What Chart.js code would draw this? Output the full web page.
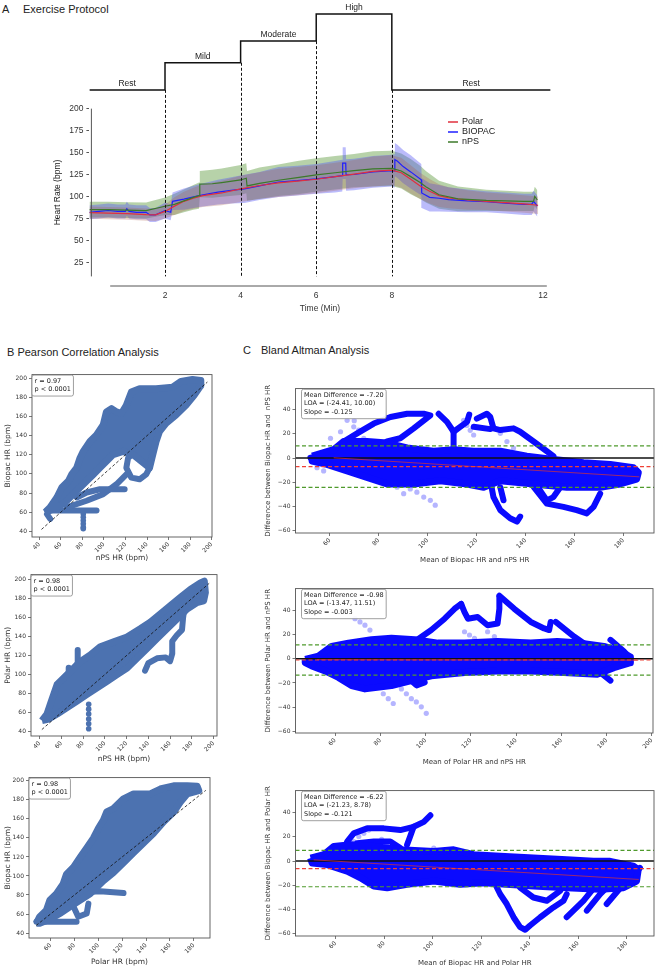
<!DOCTYPE html>
<html>
<head>
<meta charset="utf-8">
<script src="https://cdn.jsdelivr.net/npm/chart.js@4.4.1/dist/chart.umd.min.js"></script>
<style>
  body { margin: 0; width: 659px; height: 968px; position: relative; overflow: hidden; background: #fff; font-family: "Liberation Sans", Arial, sans-serif; }
  canvas { position: absolute; }
  .t { position: absolute; font-size: 11px; line-height: 11px; color: #222; white-space: pre; }
</style>
</head>
<body>
<div class="t" style="left:2px;top:4px">A</div>
<div class="t" style="left:23px;top:4px">Exercise Protocol</div>
<div class="t" style="left:7px;top:347px">B Pearson Correlation Analysis</div>
<div class="t" style="left:243px;top:345px">C</div>
<div class="t" style="left:261px;top:345px">Bland Altman Analysis</div>
<script>
// ---------- Panel A: exercise protocol + heart rate ----------
const stageNames = ['Rest', 'Mild', 'Moderate', 'High', 'Rest'];
const stageStart = [0, 2, 4, 6, 8];
const stageLevel = [0, 1, 1.8, 2.8, 0];
const stageEnd = 12.2;

const hrTicks = [25, 50, 75, 100, 125, 150, 175, 200];
const timeTicks = [2, 4, 6, 8, 12];

const polarMin = [0,0.5,1,1.5,1.75,2,2.25,2.5,2.75,3,3.5,4,4.5,5,5.5,6,6.5,7,7.5,8,8.25,8.5,8.75,9,9.25,9.5,10,10.5,11,11.5,11.87];
const polarHR  = [81.5,81,80.5,79.3,79,83,89,94.5,98,101,104,108.6,112.5,115.5,117.5,119.6,122.5,125.5,128.5,130,127,119.5,112,106,101,98.5,96,94.5,93,91.5,90];
const polarSD  = [7,7,7,7,7,8,10,11,12,13,14,15,15,16,16,16,16,16,17,17,17,16,15,14,13,12,11,10,10,10,10];

const biopacMin = [0,0.25,0.5,0.75,0.95,0.99,1.05,1.25,1.5,1.6,1.75,2,2.15,2.2,2.5,2.9,3.4,3.75,4.1,4.5,5,5.5,6,6.5,6.69,6.7,6.78,6.79,7,7.5,8,8.07,8.08,8.15,8.3,8.5,8.78,8.79,9,9.25,9.5,10,10.5,11,11.5,11.7,11.75,11.85];
const biopacHR  = [82,83,84,83,83,86,83,82,82,79,79,84,82,94.5,97,101,105,107,108.6,112,116.5,118,120,122.5,123.8,138,138,124.5,125,128,129.5,129,142,140,134,128,119,104,99,98,96.5,95,94,92.5,91,91,94.5,89];
const biopacSD  = [8,8,8,8,8,8,8,8,8,8,8,9,9,10,12,13,14,15,16,16,17,17,17,18,18,18,18,18,18,18,18,19,19,19,19,19,18,17,16,15,14,13,12,12,12,12,12,12];

const npsMin = [0,0.5,1,1.5,2,2.25,2.5,2.75,2.9,2.92,3.25,3.5,4,4.15,4.17,4.5,5,5.5,6,6.5,7,7.5,8,8.25,8.5,8.75,8.9,9.25,9.75,10.5,11.5,11.75,11.78,11.85];
const npsHR  = [85,85,84.5,84,88.9,91,95,99,101,114,114.5,115.8,118.8,120.7,112,115,118.5,121.5,124.5,127,129.5,131.5,132,129,122.6,116,111,102,97.3,95.6,94.5,94.5,100,96];
const npsSD  = [9,9,9,9,10,12,13,14,15,15,16,16,17,17,17,18,18,19,19,19,19,20,20,20,20,19,18,16,14,12,11,11,11,11];

const hrAxisSpan = [9, 200];
const timeAxisSpan = [0.55, 12.1];

// ---------- Panel B: correlation scatter ----------
const b1Cloud = [[45.5,60],[50.1,65.1],[56.3,75.4],[60.9,85.8],[67,92.6],[70.1,99.5],[74.7,106.4],[77.8,116.7],[80.8,123.6],[87,133.9],[93.1,140.8],[99.3,151.1],[102.3,164.9],[107,168.3],[111.6,164.9],[116.2,163.2],[120.8,171.8],[125.4,185.5],[133.1,189],[148.4,189],[163.8,190.7],[171.5,196.6],[182.2,198.6],[189.9,197.6],[189.9,192.4],[183.7,182.1],[176.1,171.8],[166.8,161.5],[157.6,152.9],[151.5,144.3],[148.4,133.9],[145.3,120.2],[142.3,106.4],[126.9,120.2],[117.7,123.6],[108.5,120.2],[102.3,113.3],[96.2,106.4],[90.1,99.5],[83.9,92.6],[77.8,85.8],[71.6,78.9],[65.5,72],[59.3,66.8],[53.2,63.4]];
const b1Trails = [
  [[142.3,106.4],[139.2,99.5],[133.1,94.4],[125.4,96.1],[120.8,106.4],[122.4,116.7],[130,124],[138,118],[142.3,106.4]],
  [[74.7,75.4],[83.9,80.6],[96.2,84],[108.5,84],[119.2,84]],
  [[65.5,65.1],[83.9,72],[99.3,78.9],[111.6,89.2],[120.8,99.5]],
  [[47.1,61.7],[93.1,61.7]],
  [[82.4,126],[82.4,105]],
  [[47.1,58],[50.1,53]]
];
const b1Dots = [[80.8,58.2],[80.8,54.8],[80.8,51.3],[80.8,47.9],[80.8,44.4],[80.8,42.7]];
const b1Identity = [42, 196];

const b2Cloud = [[42.1,51.4],[46.7,58.3],[49.8,68.7],[52.9,79.1],[56,89.4],[62.1,96.3],[68.2,103.2],[77.4,113.6],[86.6,120.5],[95.8,129.2],[108.1,134.3],[120.4,139.5],[132.6,148.2],[141.8,155.1],[151,163.7],[160.2,172.4],[169.4,181],[178.7,189.6],[187.9,196.5],[191.5,198.3],[192.5,186.2],[190.9,177.5],[184.8,175.8],[175.6,168.9],[166.4,158.5],[157.2,148.2],[148,137.8],[138.8,127.4],[129.6,117.1],[120.4,106.7],[111.2,99.8],[102,92.9],[92.8,86],[83.6,79.1],[74.4,72.1],[65.2,65.2],[56,58.3],[48.3,53.1]];
const b2Trails = [
  [[75,125.7],[75,103]],
  [[66.7,107],[66.7,92]],
  [[137,104],[140,112],[148,117],[156,118],[160,114],[162,122],[162,135],[166,141],[171,147],[172,160],[173,168]],
  [[45,54],[48,56]]
];
const b2Dots = [[85.1,68.7],[85.1,63.5],[85.1,58.3],[85.1,53.1],[85.1,48],[85.1,42.8]];
const b2Identity = [42, 196];

const b3Cloud = [[48.2,50.3],[51,57.2],[56.6,64.1],[59.4,74.4],[65,81.3],[70.6,91.6],[73.4,101.9],[79,108.8],[84.6,119.1],[90.3,129.5],[95.9,139.8],[100.1,150.1],[104.3,158.7],[107.1,167.3],[112.7,170.8],[121.1,181.1],[129.5,186.2],[143.5,186.2],[151.9,191.4],[163.1,194.8],[174.3,194.8],[182.7,194.2],[184.1,189.7],[174.3,186.2],[168.7,177.6],[163.1,167.3],[154.7,157],[146.3,144.9],[137.9,134.6],[129.5,124.3],[121.1,114],[112.7,103.6],[104.3,95],[98.7,88.2],[93.1,81.3],[84.6,74.4],[76.2,67.5],[67.8,60.6],[59.4,54.4],[51,50.3]];
const b3Trails = [
  [[87.5,83],[101.5,84],[112.7,83],[121.1,82]],
  [[48.2,52],[81.8,52]],
  [[76.2,76.1],[83.2,57.2],[90.3,60.6],[91.7,70.9]]
];
const b3Identity = [48, 190];

// ---------- Panel C: Bland-Altman ----------
const c1Cloud = [[52.8,1.5],[61.6,6.9],[65.7,13.7],[75.2,13.7],[83.4,12.4],[91.6,8.3],[102.4,5.6],[110.6,6.9],[118.8,5.6],[129.7,5.6],[140.5,1.5],[151.4,-1.2],[163.7,-3.9],[174.6,-5.3],[184.1,-8],[186.1,-12],[185.4,-17.5],[178.6,-21.5],[170.5,-24.2],[156.9,-24.2],[143.3,-21.5],[129.7,-18.8],[122.9,-24.2],[116.1,-21.5],[105.2,-18.8],[94.3,-21.5],[83.4,-21.5],[75.2,-16.1],[67.1,-10.7],[58.9,-5.3],[52.8,-2.5]];
const c1Trails = [
  [[65.7,13.7],[71.2,20.5],[78,28.6],[84.8,34],[91.6,36.7],[98.4,36.7],[101.1,35.4],[94.3,24.6],[88.8,16.4],[83.4,13.7]],
  [[104.5,36.7],[107.9,30],[110.6,21.8],[113.3,25.9],[116.1,30],[117,36]],
  [[110.6,21.8],[110.6,8]],
  [[120.1,32.7],[124.2,36.7],[125.6,34],[126.9,24.6],[129.7,23.2],[135.1,24.6],[137.8,21.8],[143.3,13.7],[148.7,5.6],[151.4,1.5]],
  [[118.8,25.9],[125.6,24]],
  [[52.1,0.2],[56.2,1.5]],
  [[125.6,-18.8],[126.9,-32.4],[129.7,-43.2],[133.7,-50],[136.5,-52.7],[137.8,-48.6]],
  [[143.3,-24],[148.7,-37.8],[155.5,-40.5],[160.9,-43.2],[165,-45.9],[167.8,-40.5],[170.5,-29.6]],
  [[146,-27],[148.7,-35.1],[151.4,-32.4],[154.2,-24.2]],
  [[129.7,-24.2],[131,-35]]
];
const c1Faded = [[67.1,31.3],[69.8,25.9],[71.8,23.2],[73.9,16.4],[70,31],[84.8,-13.4],[87.5,-17.5],[90.2,-21.5],[92.9,-25.6],[95.6,-28.3],[98.4,-32.4],[101.1,-35.1],[103.1,-39.1],[87.5,-24.2],[90.2,-29.6],[114.7,31.3],[116,27],[117.4,23],[118.8,19.1],[126.9,25.9],[129.7,20.5],[132.4,13.7],[135.1,8.3],[54.8,-8],[57.5,-10.7],[60.3,16.4],[64.4,21.8]];
const c1Mean = -7.20, c1Loa = [-24.41, 10.00];
const c1Fit = [[61.6,0.2],[186.5,-15.6]];

const c2Cloud = [[46.8,-0.5],[52.7,2.2],[58.5,10.3],[65.9,13],[76.1,15.7],[84.9,17],[95.2,15.7],[105.5,13],[117.2,13],[131.8,14.3],[146.5,13],[158.2,14.3],[168.5,13],[178.8,10.3],[186.1,6.2],[190.5,1.4],[190.5,-3.2],[183.2,-7.3],[175.8,-12.7],[161.2,-11.4],[146.5,-10],[131.8,-10],[117.2,-11.4],[102.5,-14.1],[93.7,-18.1],[84.9,-22.2],[73.2,-24.9],[67.3,-22.2],[61.5,-15.4],[55.6,-10],[49.7,-5.9],[46.8,-3.2]];
const c2Trails = [
  [[90.8,8.9],[95.2,14.3],[102.5,23.8],[108.4,33.2],[112.8,41.4],[115.7,45.4]],
  [[115.7,45.4],[117.2,38.6],[118.7,33.2],[123,34.6],[127.4,27.8],[131.8,29.2],[132.6,41.4],[132.6,50.8]],
  [[132.6,52.2],[139.2,41.4],[146.5,30.5],[152.4,25.1],[154.6,23.8],[155.3,30.5]],
  [[157.5,30.5],[165.6,18.4],[172.9,8.9],[178.8,0.8]],
  [[181.7,15.7],[187.6,6.2],[190.5,0.3]],
  [[172.9,-4.6],[177.3,-11.4],[181.7,-18.1]],
  [[93.7,-18.1],[96,-22],[99.6,-19.5]]
];
const c2Faded = [[68.8,33.2],[71,30.5],[73.2,27.8],[75.4,23.8],[117.2,22.4],[119.4,19.7],[121.6,17],[127.4,22.4],[130.4,18.4],[133.3,13],[76.1,-18.1],[79.1,-23.5],[81.3,-28.9],[83.5,-33],[85.7,-37],[86.4,-19.5],[89.3,-24.9],[91.5,-28.9],[93.7,-33],[95.9,-35.7],[98.1,-39.7],[100.3,-45.1]];
const c2Mean = -0.98, c2Loa = [-13.47, 11.51];
const c2Fit = [[52,-0.7],[194,-1.1]];

const c3Cloud = [[49.7,2.5],[55.2,5.2],[59.3,12],[66.2,13.4],[75.8,12],[86.7,9.3],[100.5,7.9],[108.7,9.3],[116.9,5.2],[127.9,3.9],[141.6,2.5],[155.3,1.1],[166.3,-0.2],[173.2,-0.2],[182.8,-4.3],[184.8,-7],[184.1,-16.5],[178.7,-22],[169.1,-23.3],[155.3,-22],[141.6,-20.6],[130.6,-19.2],[121,-17.9],[111.4,-19.2],[100.5,-16.5],[89.5,-19.2],[81.3,-22],[75.8,-20.6],[70.3,-13.8],[64.8,-8.4],[56.6,-2.9],[50.4,-1.6]];
const c3Trails = [
  [[64.8,16.1],[67.5,22.9],[73,27],[79.9,27],[86.7,25.6],[92.2,28.3],[96.4,32.4],[99.1,37.8]],
  [[92.2,28.3],[90.8,20.5],[89.5,13.4]],
  [[68.9,14.7],[75.8,16.1],[82.6,16.1],[86.7,10.7]],
  [[125.2,-16.5],[127.9,-27.4],[130.6,-35.5],[133.4,-46.4],[136.1,-54.6],[138.2,-56.7],[140.2,-53.2],[144.4,-46.4],[149.8,-38.3],[154,-32.8],[155.3,-27.4]],
  [[136.1,-21.9],[141.6,-30.1],[147.1,-32.8],[152.6,-24.6]],
  [[155.3,-46.4],[162.2,-32.8],[167.7,-19.2],[173.2,-0.2]],
  [[163.6,-41],[169.1,-27.4],[174.5,-16.5]],
  [[171.8,-35.5],[178.7,-19.2],[185.5,-5.6]]
];
const c3Faded = [[63.4,7.9],[65.5,12],[67.5,16.1],[69.6,20.2],[71.7,22.9],[73.7,25.6],[100.5,10.7],[103.2,6.6],[106,3.9],[79,18],[81,14]];
const c3Mean = -6.22, c3Loa = [-21.23, 8.78];
const c3Fit = [[51,1.0],[185,-15.2]];

const bTicks = [40, 60, 80, 100, 120, 140, 160, 180, 200];
const b3XTicks = [60, 80, 100, 120, 140, 160, 180];
const cYTicks = [-60, -40, -20, 0, 20, 40];
const cXTicks = [60, 80, 100, 120, 140, 160, 180];
const c2XTicks = [60, 80, 100, 120, 140, 160, 180, 200];

// ---------- colours ----------
const polarColor = '#e0303e', biopacColor = '#1f1fff', npsColor = '#3c7a2a';
const bColor = '#4c72b0', cColor = '#0a0aff', cFaded = 'rgba(10,10,255,0.3)';
const loaColor = '#4f9a2c', meanColor = '#ee4035';

Chart.defaults.animation = false;
Chart.defaults.font.family = '"DejaVu Sans", sans-serif';
Chart.defaults.color = '#333';

function addCanvas(left, top, w, h) {
  const c = document.createElement('canvas');
  c.width = w; c.height = h;
  c.style.left = left + 'px'; c.style.top = top + 'px';
  c.style.width = w + 'px'; c.style.height = h + 'px';
  document.body.appendChild(c);
  return c;
}
const fixTicks = vals => s => { s.ticks = vals.map(v => ({ value: v })); };
const xy = pts => pts.map(([x, y]) => ({ x, y }));

// dataset builders
function blob(pts, color) {
  return { data: xy(pts.concat([pts[0]])), showLine: true, fill: 'shape', backgroundColor: color,
           borderColor: color, borderWidth: 7, borderJoinStyle: 'round', pointRadius: 0, order: 2 };
}
function trail(pts, color, w) {
  return { data: xy(pts), showLine: true, fill: false, borderColor: color, borderWidth: w || 6,
           borderJoinStyle: 'round', borderCapStyle: 'round', pointRadius: 0, order: 2 };
}
function dots(pts, color, r, order) {
  return { data: xy(pts), showLine: false, pointRadius: r, pointBackgroundColor: color,
           pointBorderWidth: 0, order: order || 2 };
}
function line(pts, color, w, dash, order) {
  return { data: xy(pts), showLine: true, fill: false, borderColor: color, borderWidth: w,
           borderDash: dash || [], pointRadius: 0, order: order || 0 };
}

// plugins
const frame = {
  id: 'frame',
  afterDatasetsDraw(chart) {
    const { ctx, chartArea: a } = chart;
    ctx.save(); ctx.strokeStyle = '#555'; ctx.lineWidth = 0.9;
    ctx.strokeRect(a.left, a.top, a.right - a.left, a.bottom - a.top);
    ctx.restore();
  }
};
const noteBox = {
  id: 'noteBox',
  afterDatasetsDraw(chart, args, o) {
    if (!o.lines) return;
    const { ctx, chartArea: a } = chart;
    ctx.save();
    ctx.font = o.size + 'px "DejaVu Sans"';
    const lh = o.size * 1.3;
    const w = Math.max(...o.lines.map(s => ctx.measureText(s).width)) + 2 * o.pad;
    const h = lh * o.lines.length + 2 * o.pad - (lh - o.size) + 1;
    const x = a.left + o.dx, y = a.top + o.dy;
    ctx.beginPath(); ctx.roundRect(x, y, w, h, 2);
    ctx.fillStyle = 'rgba(255,255,255,0.92)'; ctx.fill();
    ctx.strokeStyle = '#888'; ctx.lineWidth = 0.8; ctx.stroke();
    ctx.fillStyle = '#222'; ctx.textBaseline = 'top';
    o.lines.forEach((s, i) => ctx.fillText(s, x + o.pad, y + o.pad + i * lh));
    ctx.restore();
  }
};

function smallChart(p) {
  const [l, t, r, b] = p.box, [ml, mt, mr, mb] = p.margin;
  const cv = addCanvas(l - ml, t - mt, r - l + ml + mr, b - t + mt + mb);
  const tickFont = { size: 6 };
  return new Chart(cv, {
    type: 'line',
    data: { datasets: p.datasets },
    options: {
      responsive: false,
      layout: { padding: { left: 0, top: mt, right: mr, bottom: 0 } },
      plugins: { legend: { display: false }, tooltip: { enabled: false }, noteBox: p.note },
      scales: {
        x: {
          type: 'linear', min: p.xRange[0], max: p.xRange[1],
          afterFit: s => { s.height = mb; }, afterBuildTicks: fixTicks(p.xTicks),
          ticks: { minRotation: 45, maxRotation: 45, autoSkip: false, font: tickFont, color: '#333', padding: 1 },
          grid: { drawOnChartArea: false, tickLength: 3, color: '#555', lineWidth: 0.8 },
          border: { display: false },
          title: { display: true, text: p.xTitle, font: { size: p.titleSize }, color: '#333', padding: { top: 0, bottom: 4 } }
        },
        y: {
          type: 'linear', min: p.yRange[0], max: p.yRange[1],
          afterFit: s => { s.width = ml; }, afterBuildTicks: fixTicks(p.yTicks),
          ticks: { font: tickFont, color: '#333', padding: 2, callback: v => String(v).replace('-', '\u2212') },
          grid: { drawOnChartArea: false, tickLength: 3, color: '#555', lineWidth: 0.8 },
          border: { display: false },
          title: { display: true, text: p.yTitle, font: { size: p.titleSize }, color: '#333', padding: { top: 4, bottom: 0 } }
        }
      }
    },
    plugins: [frame, noteBox]
  });
}

// ---------- Panel A chart ----------
function band(mins, hr, sd, color) {
  return [
    { data: mins.map((t, i) => ({ x: t, y: hr[i] + sd[i] })), borderWidth: 0, pointRadius: 0, fill: '+1', backgroundColor: color, order: 5 },
    { data: mins.map((t, i) => ({ x: t, y: hr[i] - sd[i] })), borderWidth: 0, pointRadius: 0, fill: false, order: 5 }
  ];
}
const meanLine = (mins, hr, color, w) => ({ data: mins.map((t, i) => ({ x: t, y: hr[i] })), borderColor: color,
  borderWidth: w, pointRadius: 0, fill: false, order: 1 });

const protocolData = stageStart.map((t, i) => ({ x: t, y: stageLevel[i] }))
  .concat([{ x: stageEnd, y: stageLevel[stageLevel.length - 1] }]);

const legendItems = [['Polar', polarColor], ['BIOPAC', biopacColor], ['nPS', npsColor]];

const panelA = {
  id: 'panelA',
  afterDatasetsDraw(chart) {
    const { ctx, scales: { x, y, y2 } } = chart;
    ctx.save();
    ctx.strokeStyle = '#555'; ctx.lineWidth = 1;
    ctx.beginPath();
    ctx.moveTo(x.getPixelForValue(0) + 2, y.getPixelForValue(hrAxisSpan[1]));
    ctx.lineTo(x.getPixelForValue(0) + 2, y.getPixelForValue(hrAxisSpan[0]));
    ctx.moveTo(x.getPixelForValue(timeAxisSpan[0]), y.bottom);
    ctx.lineTo(x.getPixelForValue(timeAxisSpan[1]), y.bottom);
    ctx.stroke();

    ctx.setLineDash([3, 2]); ctx.strokeStyle = '#111'; ctx.lineWidth = 1;
    for (let i = 1; i < stageStart.length; i++) {
      const px = Math.round(x.getPixelForValue(stageStart[i])) + 0.5;
      ctx.beginPath();
      ctx.moveTo(px, y2.getPixelForValue(Math.min(stageLevel[i - 1], stageLevel[i])));
      ctx.lineTo(px, y.getPixelForValue(hrAxisSpan[0]));
      ctx.stroke();
    }
    ctx.setLineDash([]);

    ctx.font = '8.5px "Liberation Sans"'; ctx.fillStyle = '#222';
    ctx.textAlign = 'center'; ctx.textBaseline = 'bottom';
    stageNames.forEach((s, i) => {
      const end = i + 1 < stageStart.length ? stageStart[i + 1] : stageEnd;
      ctx.fillText(s, x.getPixelForValue((stageStart[i] + end) / 2), y2.getPixelForValue(stageLevel[i]) - 2);
    });

    ctx.save();
    ctx.translate(58, (y.getPixelForValue(hrAxisSpan[1]) + y.getPixelForValue(hrAxisSpan[0])) / 2);
    ctx.rotate(-Math.PI / 2); ctx.textBaseline = 'middle';
    ctx.fillText('Heart Rate (bpm)', 0, 0);
    ctx.restore();

    ctx.textAlign = 'left'; ctx.textBaseline = 'middle'; ctx.font = '9px "Liberation Sans"';
    legendItems.forEach(([name, color], i) => {
      const yy = 122 + i * 10;
      ctx.strokeStyle = color; ctx.lineWidth = 1.5;
      ctx.beginPath(); ctx.moveTo(448, yy); ctx.lineTo(458, yy); ctx.stroke();
      ctx.fillStyle = '#222'; ctx.fillText(name, 462, yy);
    });
    ctx.restore();
  }
};

const cvA = addCanvas(0, 0, 600, 318);
new Chart(cvA, {
  type: 'line',
  data: {
    datasets: [
      ...band(polarMin, polarHR, polarSD, 'rgba(170,95,75,0.28)'),
      ...band(biopacMin, biopacHR, biopacSD, 'rgba(85,85,245,0.4)'),
      ...band(npsMin, npsHR, npsSD, 'rgba(95,155,65,0.45)'),
      meanLine(npsMin, npsHR, npsColor, 1.2),
      meanLine(polarMin, polarHR, polarColor, 1.2),
      meanLine(biopacMin, biopacHR, biopacColor, 1.2),
      { data: protocolData, yAxisID: 'y2', stepped: 'before', borderColor: '#111', borderWidth: 1.5, pointRadius: 0, fill: false, order: 0 }
    ]
  },
  options: {
    responsive: false,
    layout: { padding: { left: 0, top: 4, right: 49.4, bottom: 0 } },
    plugins: { legend: { display: false }, tooltip: { enabled: false } },
    scales: {
      x: {
        type: 'linear', min: 0, max: stageEnd,
        afterFit: s => { s.height = 32; }, afterBuildTicks: fixTicks(timeTicks),
        ticks: { font: { size: 8.5, family: '"Liberation Sans"' }, color: '#333', padding: 5, maxRotation: 0, autoSkip: false },
        grid: { display: false, drawTicks: false }, border: { display: false },
        title: { display: true, text: 'Time (Min)', font: { size: 8.5, family: '"Liberation Sans"' }, color: '#333', padding: { top: 0, bottom: 4 } }
      },
      y: {
        type: 'linear', min: -1.94, max: 314.5,
        afterFit: s => { s.width = 89.4; }, afterBuildTicks: fixTicks(hrTicks),
        ticks: { font: { size: 8.5, family: '"Liberation Sans"' }, color: '#333', padding: 3 },
        grid: { drawOnChartArea: false, tickLength: 3, color: '#555' }, border: { display: false }
      },
      y2: { type: 'linear', display: false, min: -7.236, max: 3.018 }
    }
  },
  plugins: [panelA]
});

// ---------- Panel B charts ----------
function corrSets(cloud, trails, identity, extraDots) {
  const sets = [blob(cloud, bColor), ...trails.map(t => trail(t, bColor, 6))];
  if (extraDots) sets.push(dots(extraDots, bColor, 2.8));
  sets.push(line([[identity[0], identity[0]], [identity[1], identity[1]]], '#111', 0.8, [3, 2]));
  return sets;
}
const bNote = (r) => ({ lines: ['r = ' + r, 'p < 0.0001'], size: 6.5, dx: 0, dy: 0.5, pad: 2.5 });

smallChart({ box: [32, 372, 212, 537], margin: [32, 3, 6, 30], xRange: [33.2, 200.3], yRange: [34.1, 203.8],
  xTicks: bTicks, yTicks: bTicks, xTitle: 'nPS HR (bpm)', yTitle: 'Biopac HR (bpm)', titleSize: 7.5,
  note: bNote('0.97'), datasets: corrSets(b1Cloud, b1Trails, b1Identity, b1Dots) });
smallChart({ box: [31, 572, 217, 736], margin: [31, 3, 6, 32], xRange: [32, 203.2], yRange: [35.2, 205.2],
  xTicks: bTicks, yTicks: bTicks, xTitle: 'nPS HR (bpm)', yTitle: 'Polar HR (bpm)', titleSize: 7.5,
  note: bNote('0.98'), datasets: corrSets(b2Cloud, b2Trails, b2Identity, b2Dots) });
smallChart({ box: [29, 775, 210, 938], margin: [29, 3, 6, 33], xRange: [42, 193.5], yRange: [34.8, 203.4],
  xTicks: b3XTicks, yTicks: bTicks, xTitle: 'Polar HR (bpm)', yTitle: 'Biopac HR (bpm)', titleSize: 7.5,
  note: bNote('0.98'), datasets: corrSets(b3Cloud, b3Trails, b3Identity) });

// ---------- Panel C charts ----------
function baSets(cloud, trails, faded, mean, loa, fit, xr) {
  const h = v => [[xr[0], v], [xr[1], v]];
  return [
    dots(faded, cFaded, 2.6, 3),
    blob(cloud, cColor),
    ...trails.map(t => trail(t, cColor, 6)),
    line(h(0), '#111', 1.6, [], 1),
    line(h(mean), meanColor, 1.2, [4, 2.5], 0),
    line(h(loa[0]), loaColor, 1.2, [4, 2.5], 0),
    line(h(loa[1]), loaColor, 1.2, [4, 2.5], 0),
    line(fit, '#c0304a', 0.8, [], 0)
  ];
}
const cNote = (m, loa, s) => ({ lines: ['Mean Difference = ' + m, 'LOA = ' + loa, 'Slope = ' + s], size: 6.5, dx: 6, dy: 0.7, pad: 2.5 });

const c1X = [46, 192.5], c2X = [42.5, 200.5], c3X = [43.5, 191.3];
smallChart({ box: [295, 386, 654, 533], margin: [35.5, 3, 4, 35], xRange: c1X, yRange: [-62.2, 57.6],
  xTicks: cXTicks, yTicks: cYTicks, xTitle: 'Mean of Biopac HR and nPS HR', yTitle: 'Difference between Biopac HR and  nPS HR', titleSize: 7,
  note: cNote('-7.20', '(-24.41, 10.00)', '-0.125'), datasets: baSets(c1Cloud, c1Trails, c1Faded, c1Mean, c1Loa, c1Fit, c1X) });
smallChart({ box: [295, 586, 653, 733], margin: [35.5, 3, 5, 37], xRange: c2X, yRange: [-61.4, 58.1],
  xTicks: c2XTicks, yTicks: cYTicks, xTitle: 'Mean of Polar HR and nPS HR', yTitle: 'Difference between Polar HR and nPS HR', titleSize: 7,
  note: cNote('-0.98', '(-13.47, 11.51)', '-0.003'), datasets: baSets(c2Cloud, c2Trails, c2Faded, c2Mean, c2Loa, c2Fit, c2X) });
smallChart({ box: [295, 788, 654, 936], margin: [35.5, 3, 4, 35], xRange: c3X, yRange: [-61.9, 58.2],
  xTicks: cXTicks, yTicks: cYTicks, xTitle: 'Mean of Biopac HR and Polar HR', yTitle: 'Difference between Biopac HR and Polar HR', titleSize: 7,
  note: cNote('-6.22', '(-21.23, 8.78)', '-0.121'), datasets: baSets(c3Cloud, c3Trails, c3Faded, c3Mean, c3Loa, c3Fit, c3X) });
</script>
</body>
</html>
